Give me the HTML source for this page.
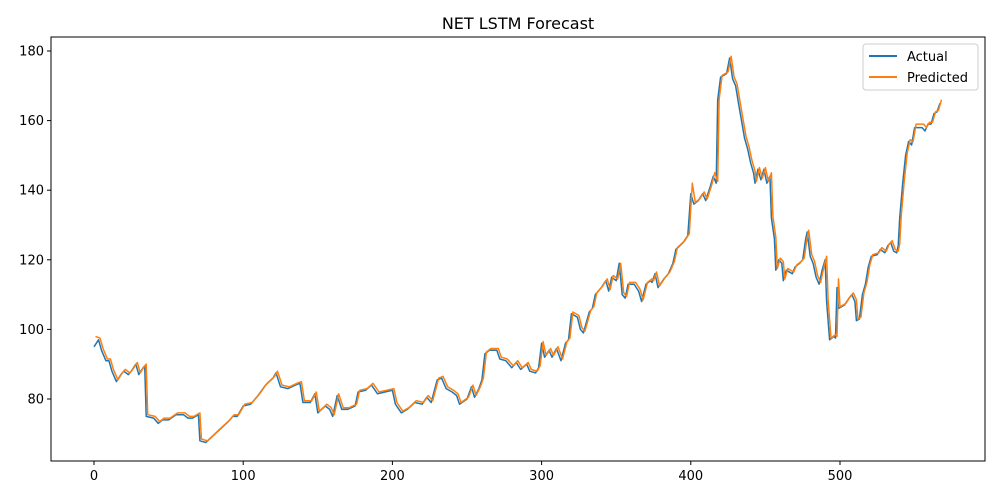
<!DOCTYPE html>
<html><head><meta charset="utf-8">
<style>
body{margin:0;background:#fff;}
svg{display:block;font-family:"DejaVu Sans","Liberation Sans",sans-serif;}
</style></head>
<body>
<svg id="chart" width="1000" height="500">
<text x="518" y="29" font-size="16" text-anchor="middle">NET LSTM Forecast</text>
<g id="plot"></g>
<g id="axes"></g>
<g>
<rect x="863" y="44" width="115" height="46" rx="3" fill="#fff" fill-opacity="0.8" stroke="#ccc"/>
<line x1="869" y1="56" x2="897" y2="56" stroke="#1f77b4" stroke-width="2"/>
<text x="907" y="61" font-size="13">Actual</text>
<line x1="869" y1="77" x2="897" y2="77" stroke="#ff7f0e" stroke-width="2"/>
<text x="907" y="82" font-size="13">Predicted</text>
</g>
</svg>
<script>
const xIdx=[0,3,5,8,10,12,15,18,20,23,25,28,30,33,34,35,40,43,46,50,55,60,63,66,70,71,75,80,85,90,93,96,100,105,110,115,120,122,125,130,135,138,140,145,148,150,155,158,160,163,166,170,175,177,182,186,190,195,200,202,206,210,215,220,223,226,230,233,236,240,243,245,250,253,255,258,260,262,265,270,272,276,280,283,286,290,292,296,298,300,302,305,307,310,313,316,318,320,324,326,328,332,334,336,340,343,345,347,350,352,354,356,358,362,365,367,370,373,374,376,378,382,385,388,390,395,398,400,402,405,408,410,413,415,417,418,420,424,426,428,430,432,434,436,438,440,442,443,445,447,449,451,453,454,456,457,459,461,462,464,468,470,473,475,477,478,480,482,484,486,488,490,491,493,496,497,498,499,503,506,508,510,511,513,515,517,519,521,525,527,530,532,534,536,538,539,540,542,544,546,548,550,555,557,559,561,563,565,567];
const actual=[95,97,94,91,91,88,85,87,88,87,88,90,87,89,89.5,75,74.5,73,74,74,75.5,75.5,74.5,74.5,75.5,68,67.5,69.5,71.5,73.5,75,75,78,78.5,81,84,86,87.5,83.5,83,84,84.5,79,79,81.5,76,78,77,75,81,77,77,78,82,82.5,84,81.5,82,82.5,78.5,76,77,79,78.5,80.5,79,85.5,86,83,82,81,78.5,80,83.5,80.5,83,85.5,93,94,94,91.5,91,89,90.5,88.5,90,88,87.5,89,96,92,94,92,94.5,91,96,97,104.5,103.5,100,99,105,106,110,112,114,111,115,114,119,110,109,113,113,111,108,113,114,113.5,116,112,114.5,116,119,123,125,127,139,136,137,139,137,141,144,142,166,172.5,173.5,178,172,170,165,160,155,152,148,145,142,146,143,146,142,144,132,126,117,120,119,114,117,116,118,119,120,126,128,121,119,115,113,117,120,108,97,98,97.5,112,106,107,109,110,108,102.5,103,110,113,118,121,121.5,123,122,124,125,122.5,122,124,132,142,150,154,153,158,158,157,159,159,162,162.5,165];
const predicted=[98,97.5,94.5,91.5,91.5,88.5,85.5,87.5,88.5,87.5,88.5,90.5,87.5,89.5,90,75.5,75,73.5,74.5,74.5,76,76,75,75,76,68.5,68,70,72,74,75.5,75.5,78.5,79,81.5,84.5,86.5,88,84,83.5,84.5,85,79.5,79.5,82,76.5,78.5,77.5,75.5,81.5,77.5,77.5,78.5,82.5,83,84.5,82,82.5,83,79,76.5,77.5,79.5,79,81,79.5,86,86.5,83.5,82.5,81.5,79,80.5,84,81,83.5,86,93.5,94.5,94.5,92,91.5,89.5,91,89,90.5,88.5,88,89.5,96.5,92.5,94.5,92.5,95,91.5,96.5,97.5,105,104,100.5,99.5,105.5,106.5,110.5,112.5,114.5,111.5,115.5,114.5,119,110.5,109.5,113.5,113.5,111.5,108.5,113.5,114.5,114,116.5,112.5,115,116.5,119.5,123.5,125.5,127.5,142,136.5,137.5,139.5,137.5,141.5,145,142.5,166,173,174,178.5,172.5,170.5,165.5,160.5,155.5,152.5,148.5,145.5,142.5,146.5,143.5,146.5,142.5,145,132.5,126.5,117.5,120.5,119.5,114.5,117.5,116.5,118.5,119.5,120.5,126.5,128.5,121.5,119.5,115.5,113.5,117.5,121,108.5,97.5,98.5,98,114.5,106.5,107.5,109.5,110.5,108.5,103,103.5,110.5,113.5,118.5,121.5,122,123.5,122.5,124.5,125.5,123,122.5,124.5,132.5,142.5,150.5,154.5,154,159,159,158,159.5,159.5,162.5,163,166];
const yTicks=[80,100,120,140,160,180];
const xTicks=[0,100,200,300,400,500];
const L=51,R=985,T=37,B=461;
const X=v=>94+(v-0)*(840-94)/500;
const Y=v=>51+(180-v)*(399-51)/100;
const NS='http://www.w3.org/2000/svg';
const plot=document.getElementById('plot'),axes=document.getElementById('axes');
function mk(tag,attrs,parent){const e=document.createElementNS(NS,tag);for(const k in attrs)e.setAttribute(k,attrs[k]);parent.appendChild(e);return e;}
const pa=mk('path',{d:xIdx.map((x,i)=>(i?'L':'M')+X(x).toFixed(1)+','+Y(actual[i]).toFixed(1)).join(''),fill:'none',stroke:'#1f77b4','stroke-width':1.5,'stroke-linejoin':'round'},plot);


const pp=mk('path',{d:xIdx.map((x,i)=>(i?'L':'M')+X(x+1).toFixed(1)+','+Y(predicted[i]).toFixed(1)).join(''),fill:'none',stroke:'#ff7f0e','stroke-width':1.5,'stroke-linejoin':'round'},plot);


const fr=mk('rect',{x:L,y:T,width:R-L,height:B-T,fill:'none',stroke:'#000','stroke-width':1},axes);


yTicks.forEach(v=>{
  const t=mk('line',{x1:L-4,x2:L,y1:Y(v),y2:Y(v),stroke:'#000'},axes);
  
  
  const l=mk('text',{x:L-7,y:Y(v)+4.5,'font-size':13,'text-anchor':'end'},axes);
  l.textContent=v;
  
  
});
xTicks.forEach(v=>{
  const t=mk('line',{x1:X(v),x2:X(v),y1:B,y2:B+4,stroke:'#000'},axes);
  
  
  const l=mk('text',{x:X(v),y:B+19,'font-size':13,'text-anchor':'middle'},axes);
  l.textContent=v;
  
  
});
</script>
</body></html>
